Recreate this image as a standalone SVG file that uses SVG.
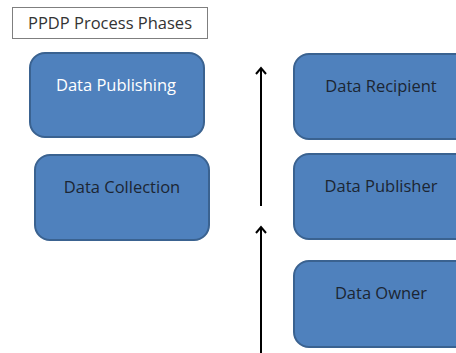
<svg xmlns="http://www.w3.org/2000/svg" width="456" height="353" viewBox="0 0 456 353">
  <defs>
    <style>
      .box { fill: #4f81bd; stroke: #3a6290; stroke-width: 2; }
      .lbl { font-family: "Open Sans", "Liberation Sans", sans-serif; font-size: 16.5px; fill: #1c2633; text-anchor: middle; }
      .lbl.light { fill: #ffffff; }
      .title { font-family: "Open Sans", "Liberation Sans", sans-serif; font-size: 16.5px; fill: #333333; text-anchor: middle; }
      .flow { stroke: #000000; stroke-width: 2; fill: none; }
    </style>
    <!-- open chevron head, drawn pointing along +x so orient="auto" turns it with the line -->
    <marker id="open-head" viewBox="0 0 12 12" refX="10" refY="6" markerWidth="12" markerHeight="12" markerUnits="userSpaceOnUse" orient="auto">
      <path d="M4,1 L10,6 L4,11" fill="none" stroke="#000" stroke-width="2"/>
    </marker>
  </defs>
  <rect width="456" height="353" fill="#ffffff"/>

  <g id="title">
    <rect x="12.5" y="7.5" width="195" height="31" fill="#ffffff" stroke="#7f7f7f" stroke-width="1"/>
    <text class="title" x="110" y="29">PPDP Process Phases</text>
  </g>

  <g id="data-publishing">
    <rect class="box" x="30" y="53" width="174" height="84" rx="15"/>
    <text class="lbl light" x="116" y="91">Data Publishing</text>
  </g>

  <g id="data-collection">
    <rect class="box" x="35" y="155" width="174" height="85" rx="15"/>
    <text class="lbl" x="122" y="193">Data Collection</text>
  </g>

  <g id="data-recipient">
    <rect class="box" x="294" y="54" width="176" height="85" rx="15"/>
    <text class="lbl" x="381" y="92">Data Recipient</text>
  </g>

  <g id="data-publisher">
    <rect class="box" x="294" y="154" width="176" height="85" rx="15"/>
    <text class="lbl" x="381" y="192">Data Publisher</text>
  </g>

  <g id="data-owner">
    <rect class="box" x="294" y="261" width="176" height="86" rx="15"/>
    <text class="lbl" x="381" y="299">Data Owner</text>
  </g>

  <g id="connectors">
    <line class="flow" x1="261" y1="206" x2="261" y2="68" marker-end="url(#open-head)"/>
    <line class="flow" x1="261" y1="353" x2="261" y2="227" marker-end="url(#open-head)"/>
  </g>
</svg>
